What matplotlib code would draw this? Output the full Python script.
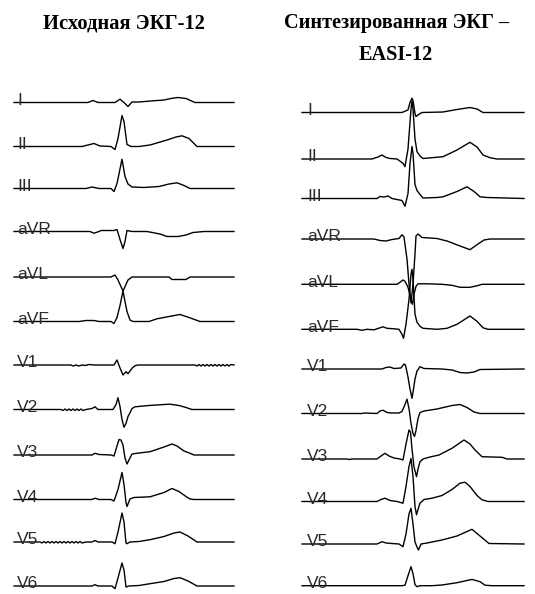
import matplotlib
matplotlib.use("Agg")
import matplotlib.pyplot as plt

lead_names = ["I", "II", "III", "aVR", "aVL", "aVF", "V1", "V2", "V3", "V4", "V5", "V6"]

# Исходная ЭКГ-12: (отсчёт при 250 Гц, мВ)
src_I = [(0, 0), (74, 0), (79, 0.2), (84, 0), (101, 0), (106, 0.33), (110, 0), (114, -0.4), (118, 0.05),
         (125, 0.05), (139, 0.17), (150, 0.25), (158, 0.42), (164, 0.5), (172, 0.4), (181, 0), (220, 0)]
src_II = [(0, 0), (68, 0), (74, 0.15), (80, 0.3), (86, 0.05), (97, 0), (101, -0.3), (104, 0.8), (108, 3.1),
          (110, 2.5), (113, 0.2), (117, 0), (125, 0), (136, 0.15), (153, 0.65), (162, 0.95), (168, 1.07),
          (175, 0.8), (183, 0), (220, 0)]
src_III = [(0, 0), (72, 0), (78, 0.15), (85, 0), (97, 0), (100, -0.3), (103, 0.5), (108, 2.93), (111, 1.2),
           (114, 0.45), (118, 0.15), (130, 0.1), (145, 0.2), (155, 0.45), (163, 0.57), (170, 0.3), (176, 0),
           (220, 0)]
src_aVR = [(0, 0), (76, 0), (80, -0.17), (85, 0), (87, 0.1), (100, 0.1), (103, 0.2), (106, -0.8), (109, -1.7),
           (111, -1.0), (113, 0.1), (118, 0), (133, 0), (146, -0.25), (153, -0.5), (164, -0.5), (172, -0.35),
           (179, -0.1), (190, 0), (220, 0)]
src_aVL = [(0, 0), (97, 0), (101, 0.2), (104, -0.3), (109, -1.4), (114, -0.3), (118, 0), (155, 0),
           (158, -0.25), (172, -0.25), (176, 0), (220, 0)]
src_aVF = [(0, 0), (65, 0), (72, 0.1), (80, 0.1), (85, 0), (97, 0), (100, -0.2), (103, 0.4), (106, 1.6),
           (109, 3.05), (111, 2.0), (113, 1.0), (116, 0.15), (119, 0), (135, 0), (143, 0.27), (155, 0.5),
           (166, 0.7), (175, 0.4), (186, 0), (220, 0)]
src_V1 = [(0, 0), (57, 0), (59, -0.1), (62, 0), (65, -0.1), (68, 0), (71, -0.05), (75, 0.05), (80, 0), (100, 0),
          (103, 0.5), (106, -0.3), (109, -1.0), (112, -0.67), (114, -0.87), (118, -0.33), (121, -0.07),
          (124, 0), (181, 0), (183, -0.1), (185, 0.05), (187, -0.1), (189, 0.05), (191, -0.1), (193, 0.05),
          (195, -0.1), (197, 0.05), (199, -0.1), (201, 0.05), (203, -0.1), (205, 0.05), (207, -0.1),
          (209, 0.05), (211, -0.1), (213, 0.05), (215, -0.1), (217, 0.05), (220, 0)]
src_V2 = [(0, 0), (47, 0), (49, -0.1), (51, 0.05), (53, -0.1), (55, 0.05), (57, -0.1), (59, 0.05), (61, -0.1),
          (63, 0.05), (65, -0.1), (67, 0.05), (69, -0.1), (72, 0), (78, 0.1), (81, 0.27), (84, 0), (99, 0),
          (102, 0.5), (104, 1.17), (106, 0.3), (108, -1.0), (110, -1.77), (112, -1.4), (114, -0.7),
          (116, -0.33), (118, 0.1), (121, 0.27), (135, 0.4), (150, 0.5), (156, 0.53), (165, 0.4),
          (172, 0.2), (178, 0), (220, 0)]
src_V3 = [(0, 0), (78, 0), (81, 0.17), (85, 0.05), (97, 0), (100, -0.1), (103, 0.9), (105, 1.55), (107, 1.5),
          (109, 1.0), (111, -0.3), (113, -0.9), (115, -0.5), (118, 0.1), (125, 0.2), (136, 0.33), (150, 0.8),
          (158, 1.1), (163, 0.9), (170, 0.4), (176, 0.17), (180, 0), (220, 0)]
src_V4 = [(0, 0), (78, 0), (81, 0.13), (85, 0), (97, 0), (100, -0.15), (104, 1.0), (108, 2.7), (110, 1.5),
          (112, -0.3), (113, -0.7), (116, 0.05), (120, 0.2), (136, 0.27), (150, 0.7), (158, 1.1), (165, 0.8),
          (172, 0.3), (176, 0.05), (180, 0), (220, 0)]
src_V5 = [(0, 0), (26, 0), (28, -0.1), (30, 0.05), (32, -0.1), (34, 0.05), (36, -0.1), (38, 0.05), (40, -0.1),
          (42, 0.05), (44, -0.1), (46, 0.05), (48, -0.1), (50, 0.05), (52, -0.1), (54, 0.05), (56, -0.1),
          (58, 0.05), (60, -0.1), (62, 0.05), (64, -0.1), (66, 0.05), (68, -0.1), (72, 0), (78, 0),
          (81, 0.15), (84, 0), (98, 0), (101, -0.17), (104, 1.0), (108, 2.9), (110, 2.0), (112, -0.1),
          (113, -0.17), (116, 0), (125, 0.05), (136, 0.23), (150, 0.55), (160, 0.9), (166, 1.0), (174, 0.6),
          (183, 0), (220, 0)]
src_V6 = [(0, 0), (78, 0), (81, 0.13), (84, 0), (98, 0), (101, -0.27), (104, 0.8), (108, 2.3), (110, 1.6),
          (112, -0.1), (115, 0), (125, 0.05), (136, 0.23), (150, 0.45), (160, 0.75), (166, 0.83), (174, 0.5),
          (183, 0), (220, 0)]

# Синтезированная ЭКГ (EASI-12)
syn_I = [(0, 0), (100, 0), (104, 0.17), (106, 0.25), (108, 1.0), (110, 1.43), (111, 1.2), (113, -0.1),
         (114, -0.4), (117, -0.17), (120, 0), (141, 0.05), (155, 0.3), (168, 0.5), (175, 0.35), (181, 0),
         (222, 0)]
syn_II = [(0, 0), (70, 0), (76, 0.2), (80, 0.4), (84, 0.15), (88, 0.05), (95, 0), (101, -0.43), (103, -0.77),
          (106, 1.0), (109, 5.0), (110, 5.8), (111, 5.0), (113, 2.0), (115, 0.73), (118, 0.3), (121, 0.05),
          (141, 0.23), (155, 0.9), (168, 1.67), (175, 1.2), (181, 0.4), (188, 0.13), (195, 0), (222, 0)]
syn_III = [(0, 0), (75, 0), (78, 0.2), (82, 0.15), (86, 0.25), (90, 0), (100, -0.2), (103, -0.77), (106, 0.5),
           (108, 3.5), (110, 5.2), (111, 4.5), (113, 1.4), (115, 0.8), (118, 0.4), (121, 0.05), (135, 0.1),
           (141, 0.17), (155, 0.7), (165, 1.17), (172, 0.7), (178, 0.17), (185, 0.1), (222, 0)]
syn_aVR = [(0, 0), (72, 0), (78, -0.15), (84, -0.2), (90, -0.05), (97, 0.05), (100, 0.43), (102, 0.2),
           (105, -2.0), (107, -4.5), (109, -6.4), (111, -4.5), (113, -1.5), (114, 0.3), (116, 0.5),
           (120, 0.15), (135, 0.05), (145, -0.2), (158, -0.7), (168, -1.07), (176, -0.5), (182, -0.1),
           (188, 0), (222, 0)]
syn_aVL = [(0, 0), (95, 0), (98, 0.2), (101, 0.43), (103, 0.3), (106, -0.3), (109, -1.5), (110.5, -2.0),
           (112, -1.0), (114, -0.2), (116, 0.05), (125, 0.05), (140, 0), (150, -0.1), (158, -0.3),
           (168, -0.3), (175, -0.15), (180, 0), (222, 0)]
syn_aVF = [(0, 0), (55, 0), (60, -0.1), (65, 0), (72, -0.05), (78, 0.15), (81, 0.25), (85, 0.1), (92, 0.05),
           (97, 0), (100, -0.5), (101.5, -0.9), (104, 0.5), (107, 3.0), (109, 5.5), (110, 6.0), (111, 5.0),
           (113, 1.5), (115, 0.7), (118, 0.3), (121, 0.1), (135, 0), (145, 0.1), (155, 0.5), (168, 1.33),
           (175, 0.8), (181, 0.15), (186, 0), (222, 0)]
syn_V1 = [(0, 0), (80, 0), (84, 0.15), (88, 0.2), (92, 0.05), (99, 0.1), (102, 0.5), (103.5, 0.4), (106, -0.8),
          (108, -2.0), (110, -2.93), (111.5, -2.0), (113, -1.0), (115, -0.2), (118, 0.23), (122, 0.05),
          (140, 0), (150, -0.1), (158, -0.35), (165, -0.4), (172, -0.3), (178, -0.05), (222, 0)]
syn_V2 = [(0, 0), (60, 0), (62, 0.05), (75, 0), (78, 0.25), (81, 0.33), (85, 0.1), (90, 0.05), (97, 0.05),
          (100, 0.2), (103, 0.9), (105, 1.43), (107, 0.5), (109, -1.0), (111, -2.0), (112.5, -2.3),
          (114, -1.7), (116, -0.5), (118, 0.1), (122, 0.25), (135, 0.45), (150, 0.8), (158, 0.9), (165, 0.6),
          (172, 0.15), (178, 0), (222, 0)]
syn_V3 = [(0, 0), (45, 0), (47, -0.05), (50, 0), (75, 0), (79, 0.3), (83, 0.57), (87, 0.3), (92, 0.1), (98, 0),
          (101, -0.1), (104, 1.5), (107, 2.9), (108.5, 2.7), (110, 1.0), (112, -0.8), (114.5, -1.77),
          (116, -1.0), (118, -0.27), (121, 0), (128, 0.2), (137, 0.4), (150, 1.07), (162, 1.9), (168, 1.5),
          (173, 0.9), (180, 0.23), (200, 0.17), (205, 0), (222, 0)]
syn_V4 = [(0, 0), (75, 0), (79, 0.2), (83, 0.33), (88, 0.1), (95, 0), (101, -0.17), (104, 1.5), (107, 3.5),
          (109, 4.3), (111, 2.5), (113, -0.5), (114.5, -1.33), (116, -0.8), (118, -0.17), (122, 0.2),
          (130, 0.33), (140, 0.6), (150, 1.2), (158, 1.83), (163, 1.93), (168, 1.5), (175, 0.6), (180, 0.17),
          (186, 0), (222, 0)]
syn_V5 = [(0, 0), (75, 0), (80, 0.23), (84, 0.1), (90, 0.05), (97, 0), (101, -0.27), (104, 1.0), (107, 3.0),
          (109, 3.57), (111, 2.0), (113, 0.2), (115, -0.3), (116.5, -0.6), (119, 0), (125, 0.1), (140, 0.4),
          (155, 0.8), (170, 1.47), (178, 0.8), (187, 0.05), (222, 0)]
syn_V6 = [(0, 0), (100, 0), (103, 0.05), (106, 1.0), (109, 1.9), (111, 1.2), (113, 0.1), (115, -0.1), (118, 0),
          (130, 0), (140, 0.07), (155, 0.3), (170, 0.63), (178, 0.4), (183, 0.05), (190, 0), (222, 0)]

src_leads = [src_I, src_II, src_III, src_aVR, src_aVL, src_aVF, src_V1, src_V2, src_V3, src_V4, src_V5, src_V6]
syn_leads = [syn_I, syn_II, syn_III, syn_aVR, syn_aVL, syn_aVF, syn_V1, syn_V2, syn_V3, syn_V4, syn_V5, syn_V6]

# layout in pixels
W, H = 535, 594
src_base = [102.5, 146.5, 188.5, 231.5, 277, 321.5, 365, 409.5, 455, 499.5, 542, 586]
syn_base = [112.5, 159, 198.5, 239, 284.3, 329.3, 369, 413.5, 459, 501.5, 544, 585.7]

label_font = ["Liberation Sans", "DejaVu Sans"]
title_font = ["Liberation Serif", "DejaVu Serif"]

fig = plt.figure(figsize=(W / 100, H / 100), dpi=100)


def draw_column(leads, baselines, x0, n_samples, label_dx):
    for name, pts, base in zip(lead_names, leads, baselines):
        # 10 px per mV, 1 px per sample
        ax = fig.add_axes([x0 / W, (H - base - 10) / H, n_samples / W, 20 / H])
        ax.set_xlim(0, n_samples)
        ax.set_ylim(-1, 1)
        ax.axis("off")
        t = [p[0] for p in pts]
        v = [p[1] for p in pts]
        ax.plot(t, v, color="black", lw=1.0, clip_on=False, solid_joinstyle="round")
        ax.text(label_dx, -0.22, name, family=label_font, fontsize=12.5, color="#2a2a2a",
                ha="left", va="baseline", clip_on=False)


draw_column(src_leads, src_base, 14, 220, 3)
draw_column(syn_leads, syn_base, 302, 222, 5)

fig.text(124 / W, 1 - 28 / H, "Исходная ЭКГ-12", family=title_font, weight="bold",
         fontsize=14.8, ha="center", va="baseline")
fig.text(397 / W, 1 - 28 / H, "Синтезированная ЭКГ –", family=title_font, weight="bold",
         fontsize=14.6, ha="center", va="baseline")
fig.text(396 / W, 1 - 60 / H, "EASI-12", family=title_font, weight="bold",
         fontsize=14.6, ha="center", va="baseline")

fig.savefig("out.png", dpi=100)
